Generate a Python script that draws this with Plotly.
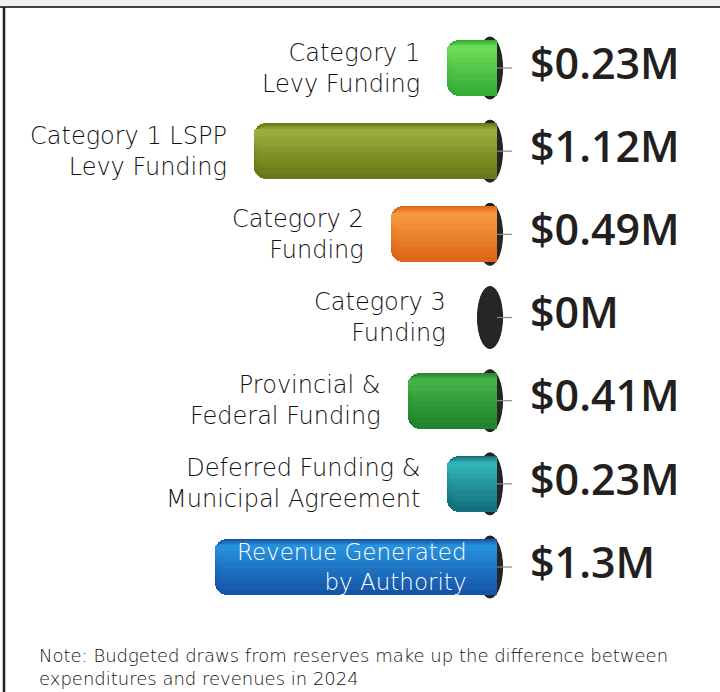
import plotly.graph_objects as go

# ---------------- data ----------------
categories = [
    "Category 1<br>Levy Funding",
    "Category 1 LSPP<br>Levy Funding",
    "Category 2<br>Funding",
    "Category 3<br>Funding",
    "Provincial &<br>Federal Funding",
    "Deferred Funding &<br>Municipal Agreement",
    "Revenue Generated<br>by Authority",
]
values = [0.23, 1.12, 0.49, 0.0, 0.41, 0.23, 1.3]
value_labels = ["$0.23M", "$1.12M", "$0.49M", "$0M", "$0.41M", "$0.23M", "$1.3M"]
note_text = ("Note: Budgeted draws from reserves make up the difference between<br>"
             "expenditures and revenues in 2024")

# ---------------- style ----------------
top_colors = ["#6cdc56", "#9cac3a", "#f6983c", "#333333", "#44b247", "#33b2b6", "#2790dc"]
bottom_colors = ["#34ac38", "#687818", "#de661a", "#333333", "#21832b", "#11707a", "#1554a6"]
label_inside = [False, False, False, False, False, False, True]

W, H = 720, 692
PX_PER_M = 216.9          # pixels per $1M
X_ZERO_PX = 497           # pixel where the bars start (right side)
ROW0_PX, ROW_STEP = 68, 83.17

x_range = [X_ZERO_PX / PX_PER_M, -(W - X_ZERO_PX) / PX_PER_M]
y_range = [(H - ROW0_PX) / ROW_STEP, -ROW0_PX / ROW_STEP]

idx = list(range(len(categories)))
bar_w = 56 / ROW_STEP


def mix(c1, c2, t):
    a = [int(c1[i:i + 2], 16) for i in (1, 3, 5)]
    b = [int(c2[i:i + 2], 16) for i in (1, 3, 5)]
    return "#" + "".join(f"{round(a[k] + (b[k] - a[k]) * t):02x}" for k in range(3))


fig = go.Figure()

# cylinder-like bars: nested layers, shrinking and drifting upward, dark -> light
N_LAYERS = 9
for k in range(N_LAYERS):
    frac = 1 - k / N_LAYERS
    t = k / (N_LAYERS - 1)
    center = -0.75 * k * bar_w / (2 * N_LAYERS)
    cols = [mix(b, tp, t) for b, tp in zip(bottom_colors, top_colors)]
    fig.add_trace(go.Bar(orientation="h", x=values, y=idx, width=bar_w * frac,
                         offset=center - bar_w * frac / 2,
                         marker=dict(color=cols, cornerradius=12, line=dict(width=0)),
                         hoverinfo="skip", showlegend=False))

# small tick lines to the right of the caps
tick_len = 15 / PX_PER_M
for i in idx:
    fig.add_trace(go.Scatter(x=[0, -tick_len], y=[i, i], mode="lines",
                             line=dict(color="#8a8a8a", width=1.2),
                             hoverinfo="skip", showlegend=False))

# value labels
fig.add_trace(go.Scatter(x=[-33 / PX_PER_M] * len(idx), y=idx, mode="text",
                         text=value_labels, textposition="middle right",
                         textfont=dict(family="Open Sans", size=43, color="#231f20", weight=600),
                         hoverinfo="skip", showlegend=False))

# dark end caps (ellipses)
cap_cx = 7 / PX_PER_M
cap_hw = 12.5 / PX_PER_M
cap_hh = 31 / ROW_STEP
for i in idx:
    fig.add_shape(type="circle", xref="x", yref="y", layer="below",
                  x0=cap_cx - cap_hw, x1=cap_cx + cap_hw, y0=i - cap_hh, y1=i + cap_hh,
                  fillcolor="#262626", line=dict(color="#1a1a1a", width=1))

# category labels
min_anchor = 0.11
for i, (cat, v, inside) in enumerate(zip(categories, values, label_inside)):
    if inside:
        fig.add_annotation(x=0, y=i, text=cat, xref="x", yref="y", xanchor="right",
                           yanchor="middle", align="right", showarrow=False, xshift=-28,
                           font=dict(family="DejaVu Sans", size=23, color="#ffffff", weight=300))
    else:
        fig.add_annotation(x=min_anchor if v == 0 else v, y=i, text=cat, xref="x", yref="y",
                           xanchor="right", yanchor="middle", align="right", showarrow=False,
                           xshift=-25,
                           font=dict(family="DejaVu Sans", size=24, color="#111111", weight=300))

# note
fig.add_annotation(x=37 / W, y=1 - 643 / H, xref="paper", yref="paper", text=note_text,
                   xanchor="left", yanchor="top", align="left", showarrow=False,
                   font=dict(family="DejaVu Sans", size=18, color="#111111", weight=300))

# frame: top light band + dark line, left dark line
fig.add_shape(type="rect", xref="paper", yref="paper", x0=0, x1=1, y0=1 - 6 / H, y1=1,
              fillcolor="#f0f0f0", line=dict(width=0))
fig.add_shape(type="line", xref="paper", yref="paper", x0=0, x1=1, y0=1 - 7 / H, y1=1 - 7 / H,
              line=dict(color="#444444", width=2))
fig.add_shape(type="line", xref="paper", yref="paper", x0=4 / W, x1=4 / W, y0=0, y1=1 - 7 / H,
              line=dict(color="#222222", width=2.5))

fig.update_layout(
    width=W, height=H, margin=dict(l=0, r=0, t=0, b=0),
    paper_bgcolor="#ffffff", plot_bgcolor="#ffffff",
    barmode="overlay", bargap=0,
    xaxis=dict(range=x_range, visible=False, fixedrange=True),
    yaxis=dict(range=y_range, visible=False, fixedrange=True),
    showlegend=False,
)

fig.write_html("out.html", config={"displayModeBar": False},
               post_script="document.body.style.margin='0';")
